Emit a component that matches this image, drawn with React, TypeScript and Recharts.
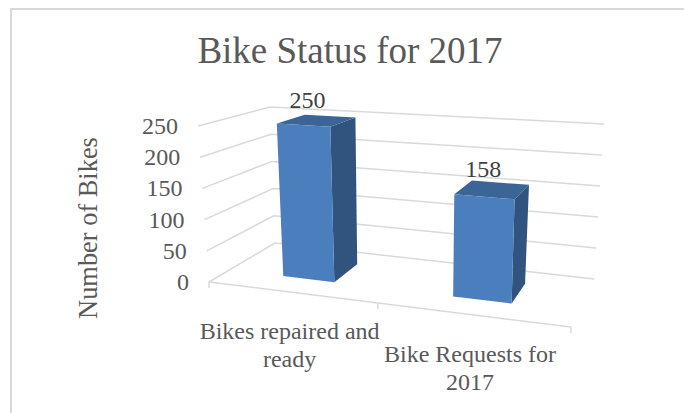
import React from 'react';
import { BarChart, Bar, XAxis, YAxis, CartesianGrid } from 'recharts';

const categories = ['Bikes repaired and ready', 'Bike Requests for 2017'];
const categoryLines = [['Bikes repaired and', 'ready'], ['Bike Requests for', '2017']];
const bikeValues = [250, 158];
const valueTicks = [0, 50, 100, 150, 200, 250];
const chartTitle = 'Bike Status for 2017';
const valueAxisTitle = 'Number of Bikes';

const tableData = categories.map((name, i) => ({ name, bikes: bikeValues[i] }));

const W = 684, H = 413;
const L = 209, R = 571, T = 126, B = 282;
const FLOOR = { fl: [209, 282], fr: [571, 327], bl: [275, 243], br: [594, 279] };
const TOP = { fl: [198, 126], fr: [578, 152], bl: [270, 107], br: [604, 124] };
const K = 1.145;
const TXT = '#595959';
const GRID = '#d9d9d9';
const SERIF = '"Liberation Serif", "Times New Roman", serif';

const mix = (a: number[], b: number[], u: number) => [a[0] + (b[0] - a[0]) * u, a[1] + (b[1] - a[1]) * u];
const quad = (q: typeof FLOOR, s: number, d: number) => mix(mix(q.fl, q.fr, s), mix(q.bl, q.br, s), d);
const project = (fx: number, fy: number, d: number) => {
  const s = (fx - L) / (R - L);
  const f = s / (s + K * (1 - s));
  const t = (B - fy) / (B - T);
  return mix(quad(FLOOR, f, d), quad(TOP, f, d), t);
};
const pts = (list: number[][]) => list.map((p) => p.join(',')).join(' ');

const D0 = 0.32, D1 = 0.75;

const Bar3D = (props: any) => {
  const { x, y, width, height } = props;
  const b = y + height, r = x + width;
  const ftl = project(x, y, D0), ftr = project(r, y, D0), fbl = project(x, b, D0), fbr = project(r, b, D0);
  const btl = project(x, y, D1), btr = project(r, y, D1), bbr = project(r, b, D1);
  return (
    <g>
      <polygon points={pts([ftr, btr, bbr, fbr])} fill="#31547e" />
      <polygon points={pts([ftl, btl, btr, ftr])} fill="#3a6596" />
      <polygon points={pts([ftl, ftr, fbr, fbl])} fill="#4b7ebc" />
    </g>
  );
};

const gridLine = (props: any) => {
  const { y1, index } = props;
  const a = project(L, y1, 0), b = project(L, y1, 1), c = project(R, y1, 1);
  const isFloor = Math.abs(y1 - B) < 0.5;
  return (
    <g key={`grid-${index}`} fill="none" stroke={GRID} strokeWidth={1.5}>
      <polyline points={pts([a, b, c])} />
      {isFloor && (
        <>
          <line x1={project(L, B, 0)[0]} y1={project(L, B, 0)[1]} x2={project(R, B, 0)[0]} y2={project(R, B, 0)[1]} />
          {[L, (L + R) / 2, R].map((fx) => {
            const p = project(fx, B, 0);
            return <line key={fx} x1={p[0]} y1={p[1]} x2={p[0]} y2={p[1] + 6} />;
          })}
        </>
      )}
    </g>
  );
};

const ValueTick = (props: any) => {
  const { y, payload } = props;
  const p = project(L, y, 0);
  return (
    <text x={p[0] - 20} y={p[1] + 8} textAnchor="end" fontFamily={SERIF} fontSize={24} fill={TXT}>
      {payload.value}
    </text>
  );
};

const CategoryTick = (props: any) => {
  const { x, payload, index } = props;
  const p = project(x, B, 0);
  const lines = categoryLines[index] ?? [payload.value];
  return (
    <text textAnchor="middle" fontFamily={SERIF} fontSize={24} fill={TXT}>
      {lines.map((line: string, i: number) => (
        <tspan key={i} x={p[0] - 1} y={p[1] + 47 + i * 28}>
          {line}
        </tspan>
      ))}
    </text>
  );
};

const BarValue = (props: any) => {
  const { x, y, width, value } = props;
  const p = project(x + width / 2, y, (D0 + D1) / 2);
  return (
    <text x={p[0] - 9} y={p[1] - 13} textAnchor="middle" fontFamily={SERIF} fontSize={24} fill="#404040">
      {value}
    </text>
  );
};

export default function App() {
  return (
    <div style={{ position: 'absolute', left: 0, top: 0, width: W, height: H, background: '#fff', overflow: 'hidden' }}>
      <div
        style={{
          position: 'absolute',
          left: 10,
          top: 8,
          right: 0,
          bottom: 0,
          borderTop: `2px solid ${GRID}`,
          borderLeft: `2px solid ${GRID}`,
        }}
      />
      <div style={{ position: 'absolute', left: 0, top: 0 }}>
        <BarChart
          width={W}
          height={H}
          data={tableData}
          margin={{ top: T, bottom: H - B - 40, left: L - 40, right: W - R }}
          barCategoryGap="34.2%"
        >
          <CartesianGrid vertical={false} horizontal={gridLine} />
          <XAxis dataKey="name" height={40} axisLine={false} tickLine={false} interval={0} tick={CategoryTick} />
          <YAxis width={40} domain={[0, 250]} ticks={valueTicks} interval={0} axisLine={false} tickLine={false} tick={ValueTick} />
          <Bar dataKey="bikes" shape={Bar3D} label={BarValue} isAnimationActive={false} />
          <text x={350} y={63} textAnchor="middle" fontFamily={SERIF} fontSize={37} fill={TXT}>
            {chartTitle}
          </text>
          <text
            x={97}
            y={228}
            transform="rotate(-90 97 228)"
            textAnchor="middle"
            fontFamily={SERIF}
            fontSize={26.4}
            fill={TXT}
          >
            {valueAxisTitle}
          </text>
        </BarChart>
      </div>
    </div>
  );
}
